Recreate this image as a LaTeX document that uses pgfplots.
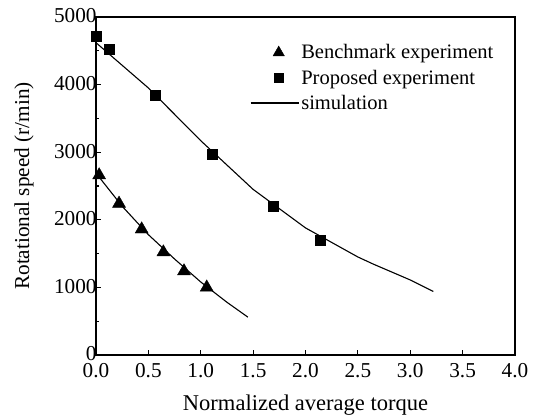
\documentclass[border=0pt]{standalone}
\usepackage{fontspec}
\setmainfont{Liberation Serif}
\usepackage{pgfplots}
\pgfplotsset{compat=1.18}
\pgfplotsset{
  marklegend/.style={legend image code/.code={\draw[##1] plot coordinates {(28bp,0bp)};}},
  linelegend/.style={legend image code/.code={\draw[##1] (0bp,0bp) -- (48bp,0bp);}},
}
\begin{document}
\begin{tikzpicture}
\begin{axis}[
  scale only axis, width=419bp, height=338bp,
  xmin=0, xmax=4, ymin=0, ymax=5000,
  xtick={0,0.5,...,4}, ytick={0,1000,...,5000},
  minor y tick num=1,
  xtick pos=bottom, ytick pos=left,
  tick align=inside,
  major tick length=5bp, minor tick length=3bp,
  axis line style={line width=1.2pt},
  every tick/.style={line width=1.1pt, black},
  xticklabel style={yshift=-5bp, /pgf/number format/.cd, fixed, fixed zerofill, precision=1},
  yticklabel style={xshift=4bp, yshift=1bp, /pgf/number format/fixed, /pgf/number format/1000 sep={}},
  /pgf/number format/assume math mode=true,
  tick label style={font=\fontsize{21.3}{25}\selectfont},
  xlabel={Normalized average torque},
  ylabel={Rotational speed (r/min)},
  xlabel style={font=\fontsize{22.6}{26}\selectfont, at={(axis description cs:0.5,-0.147)}, anchor=center},
  ylabel style={font=\fontsize{21.3}{25}\selectfont, at={(axis description cs:-0.172,0.5)}, anchor=center},
  legend style={draw=none, fill=none, at={(0.3675,0.9245)}, anchor=north west, inner sep=0pt,
    font=\fontsize{20.6}{24}\selectfont, row sep=5.5bp, cells={anchor=west}},
]
\addplot[only marks, mark=triangle*, mark size=7.5bp, black, marklegend, legend image post style={mark size=6.5bp}]
  coordinates {(0.03,2660) (0.22,2240) (0.436,1860) (0.643,1520) (0.84,1240) (1.057,1000)};
\addlegendentry{Benchmark experiment}
\addplot[only marks, mark=square*, mark size=5bp, black, marklegend, legend image post style={mark size=4.3bp}]
  coordinates {(0.0,4720) (0.13,4527) (0.563,3836) (1.114,2973) (1.693,2194) (2.145,1701)};
\addlegendentry{Proposed experiment}
\addplot[black, line width=1.1pt, no marks, linelegend]
  coordinates {(0,4620) (0.5,3950) (1.0,3170) (1.5,2450) (2.0,1880) (2.5,1450) (2.645,1346) (3.0,1110) (3.22,940)};
\addlegendentry{simulation}
\addplot[black, line width=1.1pt, no marks, forget plot]
  coordinates {(0,2690) (0.25,2200) (0.5,1780) (0.75,1420) (1.0,1080) (1.25,780) (1.45,560)};
\end{axis}
\path (current axis.south west) ++(-96bp,-61bp) coordinate (bbsw);
\path (current axis.north east) ++(22bp,17bp) coordinate (bbne);
\useasboundingbox (bbsw) rectangle (bbne);
\end{tikzpicture}
\end{document}
